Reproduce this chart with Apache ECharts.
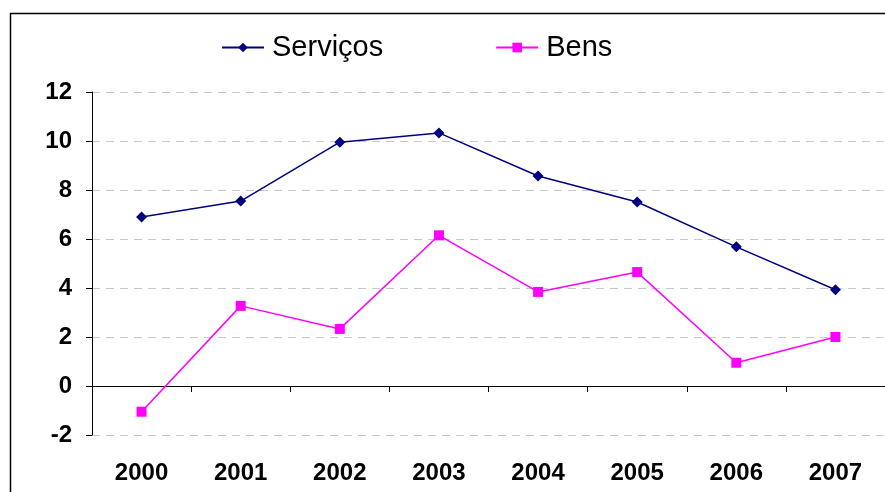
<!DOCTYPE html>
<html><head><meta charset="utf-8">
<script src="https://cdn.jsdelivr.net/npm/echarts@6/dist/echarts.min.js"></script>
<style>html,body{margin:0;padding:0;background:#fff}#c{width:885px;height:492px}</style>
</head><body><div id="c"></div>
<script>
const categories = ['2000','2001','2002','2003','2004','2005','2006','2007'];
const servicos = [6.9, 7.55, 9.95, 10.33, 8.57, 7.51, 5.68, 3.93];
const bens = [-1.05, 3.27, 2.33, 6.15, 3.84, 4.65, 0.95, 2.0];
const yTicks = {min: -2, max: 12, interval: 2};

const chart = echarts.init(document.getElementById('c'));
const font = 'Liberation Sans, Arial, sans-serif';
chart.setOption({
  animation: false,
  graphic: [{type:'rect', shape:{x:10.5,y:13.5,width:900,height:500}, style:{fill:'none',stroke:'#000',lineWidth:1.5}, z:-1}],
  legend: {
    top: 28, left: 216, itemGap: 112, itemWidth: 42, itemHeight: 12,
    textStyle: {fontFamily: font, fontSize: 29, color: '#000', padding:[0,0,0,3]},
    data: ['Serviços','Bens']
  },
  grid: {left: 92, top: 92, width: 800, height: 343},
  xAxis: [
    {type:'category', data: categories, boundaryGap: true,
     axisLine:{onZero:true, lineStyle:{color:'#000', width:1}},
     axisTick:{show:true, inside:false, length:6, lineStyle:{color:'#000'}},
     axisLabel:{show:false}, splitLine:{show:false}},
    {type:'category', data: categories, position:'bottom', boundaryGap: true,
     axisLine:{show:false, onZero:false}, axisTick:{show:false},
     axisLabel:{show:true, margin:26, fontFamily: font, fontSize: 24, fontWeight:'bold', color:'#000'}}
  ],
  yAxis: {type:'value', min: yTicks.min, max: yTicks.max, interval: yTicks.interval,
    axisLine:{show:true, lineStyle:{color:'#000'}},
    axisTick:{show:true, length:6, lineStyle:{color:'#000'}},
    axisLabel:{margin:20, fontFamily: font, fontSize: 24, fontWeight:'bold', color:'#000'},
    splitLine:{show:true, lineStyle:{color:'#c8c8c8', type:[8,6], width:1}}},
  series: [
    {name:'Serviços', type:'line', data: servicos, xAxisIndex:0,
     symbol:'diamond', symbolSize:11, itemStyle:{color:'#000080'}, lineStyle:{color:'#000080', width:1.5}},
    {name:'Bens', type:'line', data: bens, xAxisIndex:0,
     symbol:'rect', symbolSize:10, itemStyle:{color:'#ff00ff'}, lineStyle:{color:'#ff00ff', width:1.5}}
  ]
});
</script></body></html>
